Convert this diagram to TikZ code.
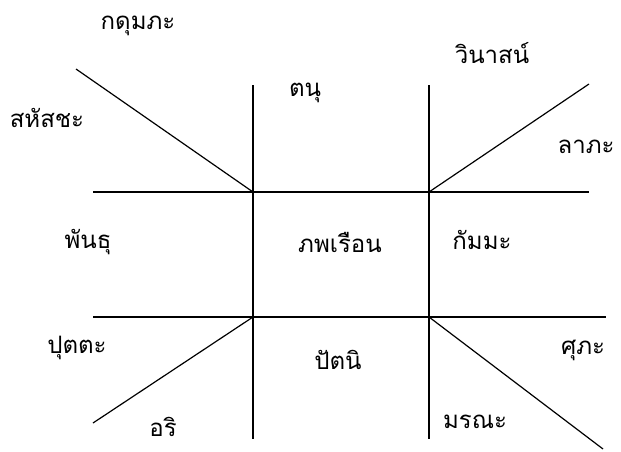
\documentclass[tikz,border=0pt]{standalone}
\usepackage{fontspec}
\newfontfamily\thaifont[Script=Thai]{Loma}
\tikzset{
  house/.style={font=\thaifont\fontsize{24}{28}\selectfont, inner sep=1pt},
  grid line/.style={line width=1.2pt},
}
\begin{document}
\begin{tikzpicture}[x=1pt, y=-1pt]
\useasboundingbox (0,0) rectangle (621,452);
% corner points of the centre box
\coordinate (tl) at (253,192);
\coordinate (tr) at (429,192);
\coordinate (bl) at (253,317);
\coordinate (br) at (429,317);
% free line ends
\coordinate (hTopL) at (93,192);   \coordinate (hTopR) at (589,192);
\coordinate (hBotL) at (93,317);   \coordinate (hBotR) at (606,317);
\coordinate (vLeftT) at (253,85);  \coordinate (vLeftB) at (253,439);
\coordinate (vRightT) at (429,85); \coordinate (vRightB) at (429,439);
\coordinate (dTL) at (76,69);      \coordinate (dTR) at (589,84);
\coordinate (dBL) at (93,423);     \coordinate (dBR) at (603,449);

\draw[grid line] (hTopL) -- (hTopR);
\draw[grid line] (hBotL) -- (hBotR);
\draw[grid line] (vLeftT) -- (vLeftB);
\draw[grid line] (vRightT) -- (vRightB);
\draw[grid line] (dTL) -- (tl);
\draw[grid line] (tr) -- (dTR);
\draw[grid line] (bl) -- (dBL);
\draw[grid line] (br) -- (dBR);

% houses
\node[house] (kadumpha) at (138,26) {กดุมภะ};
\node[house] (sahatsa) at (47,118) {สหัสชะ};
\node[house] (tanu) at (305,93) {ตนุ};
\node[house] (winat) at (492,53) {วินาสน์};
\node[house] (lapha) at (586,147) {ลาภะ};
\node[house] (phanthu) at (88,242) {พันธุ};
\node[house] (phop) at (340,242) {ภพเรือน};
\node[house] (kamma) at (482,240) {กัมมะ};
\node[house] (putta) at (77,348) {ปุตตะ};
\node[house] (patni) at (338,360) {ปัตนิ};
\node[house] (supha) at (583,350) {ศุภะ};
\node[house] (ari) at (163,427) {อริ};
\node[house] (marana) at (475,422) {มรณะ};
\end{tikzpicture}
\end{document}
